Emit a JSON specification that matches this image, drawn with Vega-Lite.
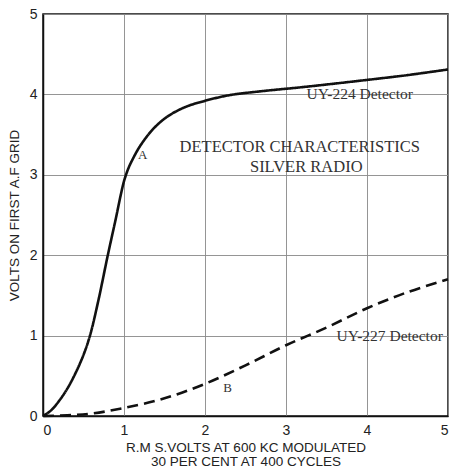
{
  "$schema": "https://vega.github.io/schema/vega-lite/v6.json",
  "width": 405,
  "height": 402,
  "autosize": "none",
  "padding": {"left": 43, "top": 14, "right": 2, "bottom": 55},
  "background": "white",
  "config": {
    "view": {"stroke": "#111", "strokeWidth": 1.5},
    "axis": {
      "gridColor": "#8a8a8a",
      "gridWidth": 1,
      "gridOpacity": 0.9,
      "domainColor": "#111",
      "domainWidth": 1.5,
      "ticks": false,
      "labelFont": "Liberation Sans",
      "labelFontSize": 14,
      "labelColor": "#222",
      "titleFont": "Liberation Sans",
      "titleFontSize": 13.5,
      "titleFontWeight": "normal",
      "titleColor": "#222"
    }
  },
  "datasets": {
    "curves": [
      {"x": 0, "y": 0, "series": "UY-224"},
      {"x": 0.1, "y": 0.07, "series": "UY-224"},
      {"x": 0.2, "y": 0.19, "series": "UY-224"},
      {"x": 0.3, "y": 0.34, "series": "UY-224"},
      {"x": 0.4, "y": 0.53, "series": "UY-224"},
      {"x": 0.5, "y": 0.76, "series": "UY-224"},
      {"x": 0.58, "y": 1.0, "series": "UY-224"},
      {"x": 0.68, "y": 1.42, "series": "UY-224"},
      {"x": 0.8, "y": 2.0, "series": "UY-224"},
      {"x": 0.9, "y": 2.46, "series": "UY-224"},
      {"x": 0.96, "y": 2.75, "series": "UY-224"},
      {"x": 1.0, "y": 2.92, "series": "UY-224"},
      {"x": 1.05, "y": 3.07, "series": "UY-224"},
      {"x": 1.1, "y": 3.18, "series": "UY-224"},
      {"x": 1.2, "y": 3.36, "series": "UY-224"},
      {"x": 1.36, "y": 3.57, "series": "UY-224"},
      {"x": 1.53, "y": 3.72, "series": "UY-224"},
      {"x": 1.75, "y": 3.84, "series": "UY-224"},
      {"x": 2.0, "y": 3.92, "series": "UY-224"},
      {"x": 2.3, "y": 3.99, "series": "UY-224"},
      {"x": 2.7, "y": 4.04, "series": "UY-224"},
      {"x": 3.2, "y": 4.09, "series": "UY-224"},
      {"x": 4.0, "y": 4.18, "series": "UY-224"},
      {"x": 4.5, "y": 4.24, "series": "UY-224"},
      {"x": 5.0, "y": 4.31, "series": "UY-224"},
      {"x": 0, "y": 0, "series": "UY-227"},
      {"x": 0.3, "y": 0.01, "series": "UY-227"},
      {"x": 0.6, "y": 0.03, "series": "UY-227"},
      {"x": 1.0, "y": 0.1, "series": "UY-227"},
      {"x": 1.5, "y": 0.22, "series": "UY-227"},
      {"x": 2.0, "y": 0.4, "series": "UY-227"},
      {"x": 2.5, "y": 0.63, "series": "UY-227"},
      {"x": 3.0, "y": 0.88, "series": "UY-227"},
      {"x": 3.5, "y": 1.1, "series": "UY-227"},
      {"x": 4.0, "y": 1.34, "series": "UY-227"},
      {"x": 4.5, "y": 1.54, "series": "UY-227"},
      {"x": 5.0, "y": 1.7, "series": "UY-227"}
    ],
    "labels": [
      {"x": 3.91, "y": 4.0, "label": "UY-224 Detector", "size": 15.5},
      {"x": 3.17, "y": 3.35, "label": "DETECTOR CHARACTERISTICS", "size": 16.5},
      {"x": 3.25, "y": 3.1, "label": "SILVER RADIO", "size": 16.5},
      {"x": 1.23, "y": 3.25, "label": "A", "size": 13},
      {"x": 2.28, "y": 0.35, "label": "B", "size": 13},
      {"x": 4.28, "y": 0.99, "label": "UY-227 Detector", "size": 15.5}
    ]
  },
  "layer": [
    {
      "data": {"name": "curves"},
      "mark": {"type": "line", "interpolate": "catmull-rom", "strokeWidth": 2.6, "color": "#111"},
      "encoding": {
        "x": {
          "field": "x", "type": "quantitative",
          "scale": {"domain": [0, 5], "nice": false},
          "axis": {"values": [0, 1, 2, 3, 4, 5], "format": "d", "labelPadding": 7,
                   "title": ["R.M S.VOLTS AT 600 KC  MODULATED", "30 PER CENT AT 400 CYCLES"],
                   "titleLineHeight": 14, "titlePadding": 3}
        },
        "y": {
          "field": "y", "type": "quantitative",
          "scale": {"domain": [0, 5], "nice": false},
          "axis": {"values": [0, 1, 2, 3, 4, 5], "format": "d", "labelPadding": 6,
                   "title": "VOLTS ON FIRST A.F GRID", "titlePadding": 8}
        },
        "detail": {"field": "series"},
        "strokeDash": {
          "field": "series", "type": "nominal",
          "scale": {"domain": ["UY-224", "UY-227"], "range": [[1, 0], [11, 6]]},
          "legend": null
        }
      }
    },
    {
      "data": {"name": "labels"},
      "mark": {"type": "text", "font": "Liberation Serif", "color": "#333", "baseline": "middle", "align": "center"},
      "encoding": {
        "x": {"field": "x", "type": "quantitative"},
        "y": {"field": "y", "type": "quantitative"},
        "text": {"field": "label"},
        "size": {"field": "size", "type": "quantitative", "scale": null}
      }
    }
  ]
}
